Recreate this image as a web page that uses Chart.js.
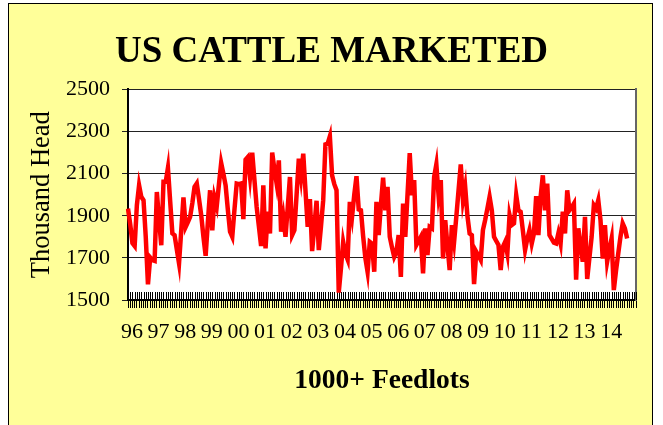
<!DOCTYPE html>
<html>
<head>
<meta charset="utf-8">
<script src="https://cdn.jsdelivr.net/npm/chart.js@4.4.1/dist/chart.umd.min.js"></script>
<style>
  html, body { margin: 0; padding: 0; background: #fff; }
  #chart { display: block; }
</style>
</head>
<body>
<canvas id="chart" width="663" height="425"></canvas>
<script>
// Year labels shown under the axis (one per January)
const yearLabels = ['96', '97', '98', '99', '00', '01', '02', '03', '04', '05',
  '06', '07', '08', '09', '10', '11', '12', '13', '14'];

// Monthly cattle marketed, thousand head
const cattle1996 = [1934, 1860, 1770, 1756, 1950, 2045, 1990, 1974, 1800, 1574, 1702, 1690];
const cattle1997 = [1686, 2013, 1880, 1760, 2061, 2061, 2127, 1970, 1816, 1808, 1740, 1674];
const cattle1998 = [1830, 1987, 1847, 1870, 1895, 1960, 2037, 2053, 1980, 1903, 1800, 1710];
const cattle1999 = [1870, 2021, 1831, 1987, 1945, 2050, 2151, 2100, 2045, 1930, 1824, 1800];
const cattle2000 = [1930, 2053, 2050, 2053, 1884, 2167, 2179, 2084, 2200, 2070, 1942, 1850];
const cattle2001 = [1756, 2045, 1745, 1919, 1816, 2200, 2120, 2053, 2163, 1824, 1895, 1800];
const cattle2002 = [1940, 2084, 1808, 1831, 2000, 2171, 2084, 2195, 2020, 1847, 1979, 1732];
const cattle2003 = [1847, 1971, 1737, 1850, 1974, 2239, 2242, 2277, 2092, 2050, 2021, 1535];
const cattle2004 = [1650, 1776, 1720, 1692, 1966, 1895, 2000, 2088, 1930, 1926, 1803, 1700];
const cattle2005 = [1634, 1776, 1768, 1634, 1966, 1808, 1950, 2081, 1926, 2037, 1800, 1750];
const cattle2006 = [1705, 1729, 1808, 1610, 1958, 1800, 2000, 2198, 1998, 2069, 1761, 1780];
const cattle2007 = [1800, 1626, 1840, 1713, 1847, 1840, 2084, 2144, 1997, 2069, 1697, 1879];
const cattle2008 = [1760, 1642, 1856, 1776, 1895, 2020, 2144, 1974, 2037, 1900, 1816, 1808];
const cattle2009 = [1575, 1729, 1710, 1690, 1832, 1880, 1934, 1990, 1926, 1800, 1780, 1761];
const cattle2010 = [1642, 1753, 1776, 1721, 1903, 1856, 1864, 1998, 1926, 1919, 1830, 1737];
const cattle2011 = [1790, 1832, 1768, 1816, 1993, 1808, 1990, 2092, 1926, 2053, 1808, 1790];
const cattle2012 = [1772, 1768, 1816, 1768, 1919, 1816, 2021, 1926, 1940, 1958, 1597, 1840];
const cattle2013 = [1760, 1682, 1895, 1600, 1700, 1800, 1950, 1934, 1974, 1879, 1697, 1856];
const cattle2014 = [1682, 1740, 1792, 1547, 1640, 1721, 1800, 1864, 1840, 1792];

const marketed = [].concat(cattle1996, cattle1997, cattle1998, cattle1999, cattle2000,
  cattle2001, cattle2002, cattle2003, cattle2004, cattle2005, cattle2006, cattle2007,
  cattle2008, cattle2009, cattle2010, cattle2011, cattle2012, cattle2013, cattle2014);

// Axis runs Jan 1996 .. Feb 2015 (last months empty)
const monthCount = 230;
const months = [];
for (let i = 0; i < monthCount; i++) {
  months.push((1996 + Math.floor(i / 12)) + '-' + String(i % 12 + 1).padStart(2, '0'));
}
const series = months.map((m, i) => (i < marketed.length ? marketed[i] : null));

const serif = 'Liberation Serif, Times New Roman, serif';

// Yellow frame and white plot area
const framePlugin = {
  id: 'frame',
  beforeDraw(chart) {
    const { ctx, chartArea: a } = chart;
    ctx.save();
    ctx.fillStyle = '#fff';
    ctx.fillRect(0, 0, chart.width, chart.height);
    ctx.fillStyle = '#FFFF99';
    ctx.fillRect(8.5, 3.5, 644, 430);
    ctx.strokeStyle = '#000';
    ctx.lineWidth = 1;
    ctx.strokeRect(8.5, 3.5, 644, 430);
    ctx.fillStyle = '#fff';
    ctx.fillRect(a.left, a.top, a.right - a.left, a.bottom - a.top);
    ctx.restore();
  }
};

// Month tick marks also cross into the plot area
const innerTicks = {
  id: 'innerTicks',
  beforeDatasetsDraw(chart) {
    const { ctx, chartArea: a } = chart;
    const xs = chart.scales.x;
    ctx.save();
    ctx.strokeStyle = '#000';
    ctx.lineWidth = 1;
    ctx.beginPath();
    for (let i = 0; i < months.length; i++) {
      const px = Math.round(xs.getPixelForValue(i)) + 0.5;
      ctx.moveTo(px, a.bottom - 8);
      ctx.lineTo(px, a.bottom);
    }
    ctx.stroke();
    ctx.restore();
  }
};

new Chart(document.getElementById('chart'), {
  type: 'line',
  data: {
    labels: months,
    datasets: [{
      label: 'Cattle marketed',
      data: series,
      borderColor: '#FF0000',
      borderWidth: 4.5,
      pointRadius: 0,
      tension: 0,
      fill: false
    }]
  },
  options: {
    responsive: false,
    animation: false,
    devicePixelRatio: 1,
    layout: { padding: 0 },
    plugins: {
      legend: { display: false },
      tooltip: { enabled: false },
      title: {
        display: true,
        text: 'US CATTLE MARKETED',
        color: '#000',
        font: { family: serif, size: 37, weight: 'bold' },
        padding: { top: 30, bottom: 15 }
      }
    },
    scales: {
      x: {
        type: 'category',
        offset: false,
        grid: { drawOnChartArea: false, drawTicks: true, tickLength: 8, color: '#000', lineWidth: 1 },
        border: { color: '#000', width: 2 },
        ticks: {
          autoSkip: false,
          maxRotation: 0,
          minRotation: 0,
          padding: 11,
          labelOffset: 4,
          color: '#000',
          font: { family: serif, size: 22 },
          callback: (v, i) => (i % 12 === 0 ? (yearLabels[i / 12] || '') : '')
        },
        title: {
          display: true,
          text: '1000+ Feedlots',
          color: '#000',
          font: { family: serif, size: 27.5, weight: 'bold' },
          padding: { top: 0, bottom: 28 }
        },
        afterFit: (s) => { s.height = 125; }
      },
      y: {
        min: 1500,
        max: 2500,
        grid: { color: '#222', lineWidth: 1, tickLength: 6 },
        border: { color: '#000', width: 2 },
        ticks: {
          stepSize: 200,
          padding: 12,
          color: '#000',
          font: { family: serif, size: 22 },
          callback: (v) => String(v)
        },
        title: {
          display: true,
          text: 'Thousand Head',
          color: '#000',
          font: { family: serif, size: 26.5 },
          padding: { top: 26, bottom: 0 }
        },
        afterFit: (s) => { s.width = 128; }
      },
      // right edge of the plot frame
      yRight: {
        position: 'right',
        min: 1500,
        max: 2500,
        grid: { drawOnChartArea: false, drawTicks: false },
        border: { display: true, color: '#666', width: 2 },
        ticks: { display: false },
        afterFit: (s) => { s.width = 27; }
      }
    }
  },
  plugins: [framePlugin, innerTicks]
});
</script>
</body>
</html>
